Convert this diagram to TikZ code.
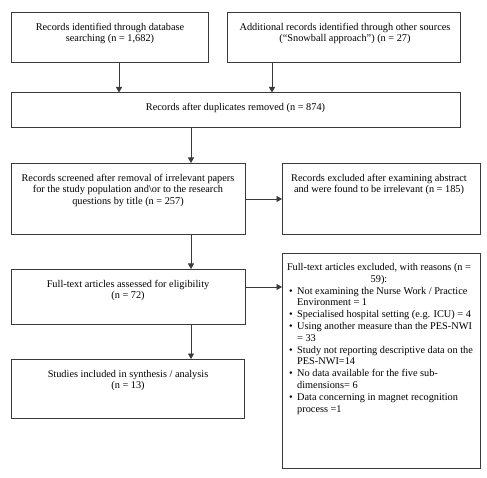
\documentclass[tikz,border=0pt]{standalone}
\usepackage{fontspec}
\setmainfont{Liberation Serif}
\usetikzlibrary{arrows.meta}
\definecolor{ln}{HTML}{3A3A3A}
\begin{document}
\begin{tikzpicture}[x=1pt,y=-1pt,
  box/.style={draw=ln,line width=0.9pt,rectangle,inner sep=0pt,anchor=north west},
  txt/.style={inner sep=0pt,anchor=north,align=center,font=\fontsize{10.3}{11.7}\selectfont},
  ltxt/.style={inner sep=0pt,anchor=north west,align=left,font=\fontsize{10.3}{11.8}\selectfont},
  arr/.style={draw=ln,line width=0.9pt,-{Triangle[width=6pt,length=5.5pt]}}]
\useasboundingbox (0,0) rectangle (487,478);
\fill[white] (0,0) rectangle (487,478);
% boxes
\node[box,minimum width=197pt,minimum height=50pt] (b1) at (11,12) {};
\node[box,minimum width=233pt,minimum height=50pt] (b2) at (227,12) {};
\node[box,minimum width=449pt,minimum height=35pt] (b3) at (11,92.5) {};
\node[box,minimum width=234pt,minimum height=71pt] (b4) at (11,163) {};
\node[box,minimum width=198pt,minimum height=71pt] (b5) at (282,163) {};
\node[box,minimum width=234pt,minimum height=54.5pt] (b6) at (11,269) {};
\node[box,minimum width=198pt,minimum height=215pt] (b7) at (282,253) {};
\node[box,minimum width=233pt,minimum height=59pt] (b8) at (11,359) {};
% texts
\node[txt] (t1) at (110,22.8) {Records identified through database\\searching (n = 1,682)};
\node[txt] (t2) at (345,22.8) {Additional records identified through other sources\\(“Snowball approach”) (n = 27)};
\node[txt] (t3) at (235.5,103.5) {Records after duplicates removed (n = 874)};
\node[txt] (t4) at (128,173.8) {Records screened after removal of irrelevant papers\\for the study population and\textbackslash or to the research\\questions by title (n = 257)};
\node[txt] (t5) at (379,173.8) {Records excluded after examining abstract\\and were found to be irrelevant (n = 185)};
\node[txt] (t6) at (128,279.8) {Full-text articles assessed for eligibility\\(n = 72)};
\node[txt] (t7) at (379,263.5) {Full-text articles excluded, with reasons (n =\\59):};
\node[ltxt] (t7b) at (289,286.8) {%
\makebox[8pt][l]{•}Not examining the Nurse Work / Practice\\
\hspace*{8pt}Environment = 1\\
\makebox[8pt][l]{•}Specialised hospital setting (e.g. ICU) = 4\\
\makebox[8pt][l]{•}Using another measure than the PES-NWI\\
\hspace*{8pt}= 33\\
\makebox[8pt][l]{•}Study not reporting descriptive data on the\\
\hspace*{8pt}PES-NWI=14\\
\makebox[8pt][l]{•}No data available for the five sub-\\
\hspace*{8pt}dimensions= 6\\
\makebox[8pt][l]{•}Data concerning in magnet recognition\\
\hspace*{8pt}process =1};
\node[txt] (t8) at (128,369.8) {Studies included in synthesis / analysis\\(n = 13)};
% connectors
\draw[arr] (b1.south -| 119,0) -- (b3.north -| 119,0);
\draw[arr] (b2.south -| 272,0) -- (b3.north -| 272,0);
\draw[arr] (b3.south -| 191,0) -- (b4.north -| 191,0);
\draw[arr] (b4.east |- 0,199) -- (b5.west |- 0,199);
\draw[arr] (b4.south -| 191,0) -- (b6.north -| 191,0);
\draw[arr] (b6.east |- 0,287) -- (b7.west |- 0,287);
\draw[arr] (b6.south -| 191,0) -- (b8.north -| 191,0);
\end{tikzpicture}
\end{document}
